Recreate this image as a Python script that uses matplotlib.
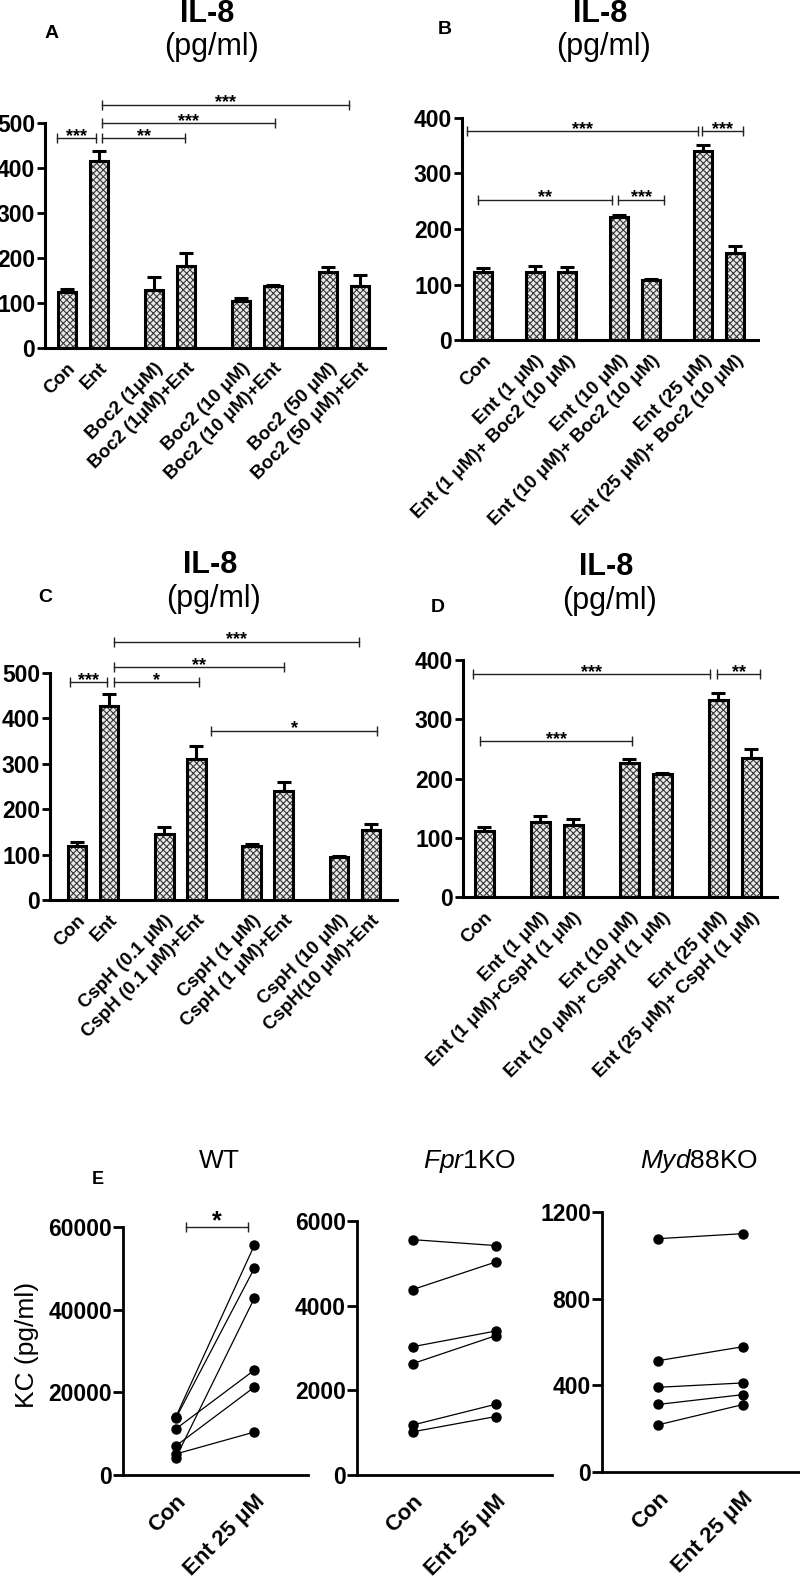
import numpy as np
import matplotlib
matplotlib.use('Agg')
import matplotlib.pyplot as plt

plt.rcParams['font.family'] = ['Liberation Sans', 'DejaVu Sans']
plt.rcParams['mathtext.fontset'] = 'custom'
plt.rcParams['mathtext.it'] = 'Liberation Sans:italic'
plt.rcParams['mathtext.rm'] = 'Liberation Sans'
plt.rcParams['hatch.linewidth'] = 0.8

# ---------------- data ----------------
labels_A = ['Con', 'Ent', 'Boc2 (1\u03bcM)', 'Boc2 (1\u03bcM)+Ent',
            'Boc2 (10 \u03bcM)', 'Boc2 (10 \u03bcM)+Ent',
            'Boc2 (50 \u03bcM)', 'Boc2 (50 \u03bcM)+Ent']
mean_A = [124, 415, 130, 183, 105, 138, 170, 138]
sem_A = [7, 22, 27, 28, 6, 3, 11, 24]
# (from bar index, to bar index, height, label)
sig_A = [(-0.3, 0.92, 467, '***'), (1.06, 2.97, 467, '**'),
         (1.06, 5.03, 500, '***'), (1.06, 6.65, 541, '***')]

labels_B = ['Con', 'Ent (1 \u03bcM)', 'Ent (1 \u03bcM)+ Boc2 (10 \u03bcM)',
            'Ent (10 \u03bcM)', 'Ent (10 \u03bcM)+ Boc2 (10 \u03bcM)',
            'Ent (25 \u03bcM)', 'Ent (25 \u03bcM)+ Boc2 (10 \u03bcM)']
mean_B = [122, 122, 122, 221, 108, 340, 157]
sem_B = [7, 12, 9, 5, 2, 11, 13]
sig_B = [(-0.3, 4.9, 376, '***'), (4.98, 6.25, 376, '***'),
         (-0.1, 2.86, 253, '**'), (2.98, 4.25, 253, '***')]

labels_C = ['Con', 'Ent', 'CspH (0.1 \u03bcM)', 'CspH (0.1 \u03bcM)+Ent',
            'CspH (1 \u03bcM)', 'CspH (1 \u03bcM)+Ent',
            'CspH (10 \u03bcM)', 'CspH(10 \u03bcM)+Ent']
mean_C = [120, 428, 146, 310, 118, 241, 94, 154]
sem_C = [7, 25, 15, 29, 6, 20, 3, 13]
sig_C = [(-0.22, 0.94, 480, '***'), (1.09, 3.05, 480, '*'),
         (1.09, 5.0, 513, '**'), (1.09, 6.62, 569, '***'),
         (3.27, 7.2, 373, '*')]

labels_D = ['Con', 'Ent (1 \u03bcM)', 'Ent (1 \u03bcM)+CspH (1 \u03bcM)',
            'Ent (10 \u03bcM)', 'Ent (10 \u03bcM)+ CspH (1 \u03bcM)',
            'Ent (25 \u03bcM)', 'Ent (25 \u03bcM)+ CspH (1 \u03bcM)']
mean_D = [112, 126, 121, 227, 207, 332, 234]
sem_D = [6, 11, 11, 6, 2, 12, 16]
sig_D = [(-0.2, 4.85, 376, '***'), (4.98, 6.26, 376, '**'),
         (-0.07, 3.09, 263, '***')]

pair_labels = ['Con', 'Ent 25 \u03bcM']
wt_con = [14030, 13700, 11130, 7020, 5080, 4110]
wt_ent = [55650, 50080, 25400, 21290, 10400, 42830]
fpr_con = [5560, 4380, 3030, 2630, 1180, 1020]
fpr_ent = [5420, 5030, 3400, 3290, 1670, 1380]
myd_con = [1077, 514, 391, 312, 218]
myd_ent = [1100, 578, 411, 357, 311]

W, H = 800, 1588
fig = plt.figure(figsize=(W / 100, H / 100), dpi=100)


def make_ax(l, r, b, t):
    return fig.add_axes([l / W, 1 - b / H, (r - l) / W, (b - t) / H])


def group_pos(sizes, gap):
    pos, x = [], 0.0
    for n in sizes:
        for k in range(n):
            pos.append(x)
            x += 1
        x += gap
    return np.array(pos)


def idx2x(pos, f):
    i = int(np.clip(np.floor(f), 0, len(pos) - 2))
    return pos[i] + (f - i) * (pos[i + 1] - pos[i])


def style_axes(ax, lw):
    for s in ['top', 'right']:
        ax.spines[s].set_visible(False)
    for s in ['left', 'bottom']:
        ax.spines[s].set_linewidth(lw)
    for t in ax.get_yticklabels():
        t.set_fontweight('bold')


def bracket(ax, x1, x2, y, lab, fs=13, off=-2):
    ax.plot([x1, x2], [y, y], color='#222222', lw=1, marker='|', ms=7, mew=1,
            clip_on=False)
    ax.annotate(lab, ((x1 + x2) / 2, y), xytext=(0, off), textcoords='offset points',
                ha='center', va='baseline', fontsize=fs, fontweight='bold',
                annotation_clip=False)


def bar_panel(ax, pos, means, sems, labels, ymax, xlim, sigs):
    ax.bar(pos, means, width=0.58, color='#e8e8e8', edgecolor='#3a3a3a', hatch='xxxxx',
           linewidth=0, zorder=2)
    ax.bar(pos, means, width=0.58, fill=False, edgecolor='black', linewidth=2.2, zorder=3)
    ax.errorbar(pos, means, yerr=[np.zeros(len(sems)), sems], fmt='none', ecolor='black',
                elinewidth=2.2, capsize=5, capthick=2.2, zorder=4)
    ax.set_xlim(xlim)
    ax.set_ylim(0, ymax)
    ax.set_yticks(np.arange(0, ymax + 1, 100))
    ax.set_xticks(pos)
    ax.set_xticklabels(labels, rotation=45, ha='right', va='top', rotation_mode='anchor',
                       fontsize=13.5, fontweight='bold')
    ax.tick_params(axis='x', length=0, pad=8.5)
    ax.tick_params(axis='y', length=6, width=2, labelsize=16.5, pad=1)
    style_axes(ax, 2.2)
    for f1, f2, y, lab in sigs:
        bracket(ax, idx2x(pos, f1), idx2x(pos, f2), y, lab)


def header(x, y_il, y_pg, letter, lx, ly):
    fig.text(x / W, 1 - y_il / H, 'IL-8', ha='center', va='baseline', fontsize=22,
             fontweight='bold')
    fig.text((x + 4) / W, 1 - y_pg / H, '(pg/ml)', ha='center', va='center', fontsize=22)
    fig.text(lx / W, 1 - ly / H, letter, ha='center', va='center', fontsize=14,
             fontweight='bold')


# panel A
axA = make_ax(45, 385, 348, 123)
bar_panel(axA, group_pos([2, 2, 2, 2], 0.72), mean_A, sem_A, labels_A, 500,
          (-0.69, 9.94), sig_A)
header(207, 22, 47, 'A', 52, 33)

# panel B
axB = make_ax(462, 758, 340, 118)
bar_panel(axB, group_pos([1, 2, 2, 2], 0.65), mean_B, sem_B, labels_B, 400,
          (-0.66, 8.68), sig_B)
header(600, 22, 47, 'B', 445, 30)

# panel C
axC = make_ax(50, 397, 900, 673)
bar_panel(axC, group_pos([2, 2, 2, 2], 0.73), mean_C, sem_C, labels_C, 500,
          (-0.84, 10.0), sig_C)
header(210, 573, 599, 'C', 45, 598)

# panel D
axD = make_ax(463, 777, 897, 660)
bar_panel(axD, group_pos([1, 2, 2, 2], 0.7), mean_D, sem_D, labels_D, 400,
          (-0.64, 8.88), sig_D)
header(606, 575, 601, 'D', 438, 607)


# panel E
def pair_panel(ax, con, ent, ymax, step):
    for c, e in zip(con, ent):
        ax.plot([0, 1], [c, e], '-o', color='black', lw=0.9, ms=6.5)
    ax.set_xlim(-0.67, 1.68)
    ax.set_ylim(0, ymax)
    ax.set_yticks(np.arange(0, ymax + 1, step))
    ax.set_xticks([0, 1])
    ax.set_xticklabels(pair_labels, rotation=45, ha='right', va='top',
                       rotation_mode='anchor', fontsize=16, fontweight='bold')
    ax.tick_params(axis='x', length=0, pad=11.5)
    ax.tick_params(axis='y', length=7, width=2, labelsize=16.5, pad=1)
    style_axes(ax, 2)


axW = make_ax(123, 308, 1475, 1227)
pair_panel(axW, wt_con, wt_ent, 60000, 20000)
bracket(axW, 0.13, 0.92, 60000, '*', fs=18, off=-1)
axF = make_ax(357, 552, 1475, 1221)
pair_panel(axF, fpr_con, fpr_ent, 6000, 2000)
axM = make_ax(602, 800, 1472, 1212)
pair_panel(axM, myd_con, myd_ent, 1200, 400)

fig.text(219 / W, 1 - 1168 / H, 'WT', ha='center', va='baseline', fontsize=19)
fig.text(470 / W, 1 - 1168 / H, r'$\mathit{Fpr1}$KO', ha='center', va='baseline', fontsize=19)
fig.text(699 / W, 1 - 1168 / H, r'$\mathit{Myd88}$KO', ha='center', va='baseline', fontsize=19)
fig.text(98 / W, 1 - 1180 / H, 'E', ha='center', va='center', fontsize=13, fontweight='bold')
fig.text(27 / W, 1 - 1345 / H, 'KC (pg/ml)', ha='center', va='center', rotation=90,
         fontsize=19)

fig.savefig('out.png', dpi=100, facecolor='white')
